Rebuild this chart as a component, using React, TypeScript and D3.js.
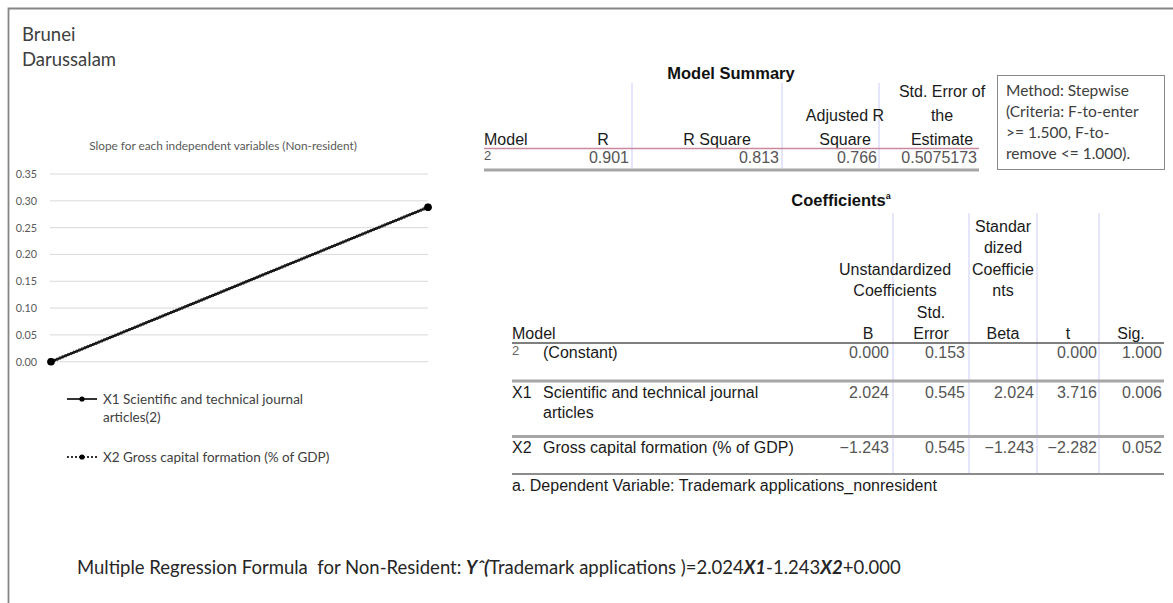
import * as d3 from "d3";

// left chart data
const categories = ["1", "2"];
const x1Values = [0, 0.288];
const x2Values = [0, 0.288];
const yTicks = [0, 0.05, 0.1, 0.15, 0.2, 0.25, 0.3, 0.35];

// model summary
const summaryHeaders = [["Model"], ["R"], ["R Square"], ["Adjusted R", "Square"], ["Std. Error of", "the", "Estimate"]];
const summaryRow = ["2", "0.901", "0.813", "0.766", "0.5075173"];

// coefficients
const coefModels = ["2", "X1", "X2"];
const coefNames = [["(Constant)"], ["Scientific and technical journal", "articles"], ["Gross capital formation (% of GDP)"]];
const coefB = ["0.000", "2.024", "\u22121.243"];
const coefSE = ["0.153", "0.545", "0.545"];
const coefBeta = ["", "2.024", "\u22121.243"];
const coefT = ["0.000", "3.716", "\u22122.282"];
const coefSig = ["1.000", "0.006", "0.052"];

const methodLines = ["Method: Stepwise", "(Criteria: F-to-enter", ">= 1.500, F-to-", "remove <= 1.000)."];

const calibri = "Lato, 'Open Sans', sans-serif";
const arial = "'Liberation Sans', Arial, sans-serif";

export default function App() {
  const y = d3.scaleLinear().domain([0, 0.35]).range([361.7, 174]);
  const x = d3.scalePoint().domain(categories).range([51, 428]);
  const line = d3
    .line<number>()
    .x((d, i) => x(categories[i]) as number)
    .y((d) => y(d));

  // table layout
  const sumX = [484, 603, 717, 845, 942];
  const sumRight = [0, 629, 779, 877, 977];
  const sumStep = 24;
  const sumBase = 145;

  const coefStep = 21.5;
  const coefHeadBase = 339;
  const rowBase = [358, 398, 453];
  const valCols = [coefB, coefSE, coefBeta, coefT, coefSig];
  const valRight = [889, 965, 1034, 1097, 1162];

  return (
    <svg width={1173} height={603} style={{ position: "absolute", left: 0, top: 0, background: "#fff" }}>
      <rect x={0} y={0} width={1173} height={603} fill="#fff" />
      {/* frame */}
      <path d="M8.5,603 L8.5,8.5 L1173,8.5" fill="none" stroke="#858585" strokeWidth={1.8} />

      <text x={22} y={40.5} fontFamily={calibri} fontSize={18.5} fill="#404040">Brunei</text>
      <text x={22} y={66} fontFamily={calibri} fontSize={18.5} fill="#404040">Darussalam</text>

      {/* left chart */}
      <text x={223} y={150} textAnchor="middle" fontFamily={calibri} fontSize={11.8} fill="#595959">
        Slope for each independent variables (Non-resident)
      </text>
      {yTicks.map((t) => (
        <g key={t}>
          <line x1={50} x2={428} y1={y(t)} y2={y(t)} stroke="#d9d9d9" strokeWidth={1} />
          <text x={37} y={y(t) + 4} textAnchor="end" fontFamily={calibri} fontSize={10.8} fill="#595959">
            {t.toFixed(2)}
          </text>
        </g>
      ))}
      <path d={line(x1Values) || ""} fill="none" stroke="#000" strokeWidth={2.2} />
      <path d={line(x2Values) || ""} fill="none" stroke="#2a2a2a" strokeWidth={3.2} strokeDasharray="1.5 1.5" />
      {x1Values.map((v, i) => (
        <circle key={"a" + i} cx={x(categories[i])} cy={y(v)} r={3.8} fill="#000" />
      ))}
      {x2Values.map((v, i) => (
        <circle key={"b" + i} cx={x(categories[i])} cy={y(v)} r={3.4} fill="#000" />
      ))}

      {/* legend */}
      <line x1={67} x2={97} y1={399} y2={399} stroke="#000" strokeWidth={1.6} />
      <circle cx={82} cy={399} r={2.6} fill="#000" />
      <text x={103} y={403.5} fontFamily={calibri} fontSize={13.5} fill="#404040">X1 Scientific and technical journal</text>
      <text x={103} y={421.5} fontFamily={calibri} fontSize={13.5} fill="#404040">articles(2)</text>
      <line x1={67} x2={97} y1={457} y2={457} stroke="#333" strokeWidth={2} strokeDasharray="2 2" />
      <circle cx={82} cy={457} r={2.6} fill="#000" />
      <text x={103} y={461.5} fontFamily={calibri} fontSize={13.5} fill="#404040">X2 Gross capital formation (% of GDP)</text>

      {/* model summary */}
      <text x={731} y={79} textAnchor="middle" fontFamily={arial} fontWeight="bold" fontSize={16.5} fill="#111">
        Model Summary
      </text>
      {[632, 782, 879].map((lx) => (
        <line key={lx} x1={lx} x2={lx} y1={83} y2={168} stroke="#dcdcfa" strokeWidth={1.5} />
      ))}
      {summaryHeaders.map((lines, i) =>
        lines.map((s, j) => (
          <text
            key={i + "-" + j}
            x={sumX[i]}
            y={sumBase - (lines.length - 1 - j) * sumStep}
            textAnchor={i === 0 ? "start" : "middle"}
            fontFamily={arial}
            fontSize={16}
            fill="#1a1a1a"
          >
            {s}
          </text>
        ))
      )}
      <line x1={484} x2={979} y1={148.5} y2={148.5} stroke="#c98a9e" strokeWidth={1.5} />
      {summaryRow.map((v, i) => (
        <text
          key={"s" + i}
          x={i === 0 ? 484 : sumRight[i]}
          y={i === 0 ? 160 : 163}
          textAnchor={i === 0 ? "start" : "end"}
          fontFamily={arial}
          fontSize={i === 0 ? 13 : 16}
          fill="#555"
        >
          {v}
        </text>
      ))}
      <line x1={484} x2={979} y1={170} y2={170} stroke="#a6a6a6" strokeWidth={3} />

      {/* method box */}
      <rect x={997.5} y={75.5} width={167} height={94} fill="#fff" stroke="#8a8a8a" strokeWidth={1} />
      {methodLines.map((s, i) => (
        <text key={s} x={1006} y={96 + i * 21} fontFamily={calibri} fontSize={15.5} fill="#404040">
          {s}
        </text>
      ))}

      {/* coefficients */}
      <text x={841} y={206} textAnchor="middle" fontFamily={arial} fontWeight="bold" fontSize={16.5} fill="#111">
        Coefficients<tspan fontSize={9} dy={-7}>a</tspan>
      </text>
      {[893, 969, 1037, 1099].map((lx) => (
        <line key={lx} x1={lx} x2={lx} y1={213} y2={474} stroke="#dcdcfa" strokeWidth={1.5} />
      ))}
      {[
        { s: "Standar", x: 1003, k: 5 },
        { s: "dized", x: 1003, k: 4 },
        { s: "Coefficie", x: 1003, k: 3 },
        { s: "nts", x: 1003, k: 2 },
        { s: "Unstandardized", x: 895, k: 3 },
        { s: "Coefficients", x: 895, k: 2 },
        { s: "Std.", x: 931, k: 1 },
        { s: "Error", x: 931, k: 0 },
        { s: "B", x: 868, k: 0 },
        { s: "Beta", x: 1003, k: 0 },
        { s: "t", x: 1068, k: 0 },
        { s: "Sig.", x: 1131, k: 0 },
      ].map((h) => (
        <text
          key={h.s}
          x={h.x}
          y={coefHeadBase - h.k * coefStep}
          textAnchor="middle"
          fontFamily={arial}
          fontSize={16}
          fill="#1a1a1a"
        >
          {h.s}
        </text>
      ))}
      <text x={512} y={coefHeadBase} fontFamily={arial} fontSize={16} fill="#1a1a1a">Model</text>
      <line x1={512} x2={1164} y1={343} y2={343} stroke="#555" strokeWidth={1.5} />
      {coefModels.map((m, r) => (
        <g key={m}>
          <text
            x={512}
            y={r === 0 ? rowBase[r] - 3 : rowBase[r]}
            fontFamily={arial}
            fontSize={r === 0 ? 13 : 16}
            fill={r === 0 ? "#666" : "#1a1a1a"}
          >
            {m}
          </text>
          {coefNames[r].map((s, j) => (
            <text key={s} x={543} y={rowBase[r] + j * 20} fontFamily={arial} fontSize={16} fill="#1a1a1a">
              {s}
            </text>
          ))}
          {valCols.map((col, c) => (
            <text key={c} x={valRight[c]} y={rowBase[r]} textAnchor="end" fontFamily={arial} fontSize={16} fill="#555">
              {col[r]}
            </text>
          ))}
        </g>
      ))}
      <line x1={512} x2={1164} y1={381} y2={381} stroke="#a6a6a6" strokeWidth={3} />
      <line x1={512} x2={1164} y1={436.5} y2={436.5} stroke="#a6a6a6" strokeWidth={3} />
      <line x1={512} x2={1164} y1={474} y2={474} stroke="#666" strokeWidth={1.5} />
      <text x={512} y={491} fontFamily={arial} fontSize={16} fill="#1a1a1a">
        a. Dependent Variable: Trademark applications_nonresident
      </text>

      {/* formula */}
      <text x={77} y={574} fontFamily={calibri} fontSize={18.5} fill="#262626" style={{ whiteSpace: "pre" }}>
        {"Multiple Regression Formula  for Non-Resident: "}
        <tspan fontWeight="bold" fontStyle="italic">{"Y\u02C6("}</tspan>
        {"Trademark applications )=2.024"}
        <tspan fontWeight="bold" fontStyle="italic">X1</tspan>
        {"-1.243"}
        <tspan fontWeight="bold" fontStyle="italic">X2</tspan>
        {"+0.000"}
      </text>
    </svg>
  );
}
